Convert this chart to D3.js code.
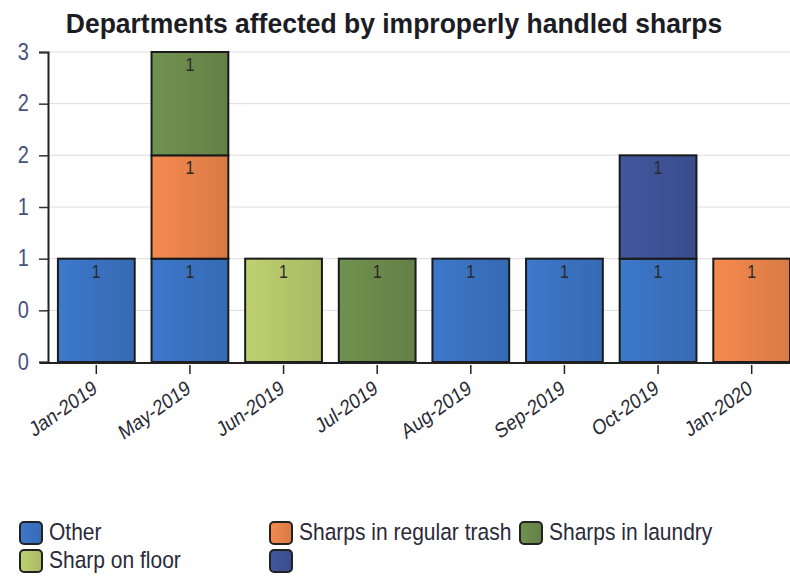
<!DOCTYPE html>
<html>
<head>
<meta charset="utf-8">
<script src="https://cdn.jsdelivr.net/npm/d3@7"></script>
<style>
  html, body { margin: 0; padding: 0; background: #fff; }
  svg { display: block; font-family: "Liberation Sans", Arial, sans-serif; }
</style>
</head>
<body>
<svg id="chart" width="790" height="577"></svg>
<script>
// Monthly counts of improperly handled sharps, by department category
const months = ["Jan-2019", "May-2019", "Jun-2019", "Jul-2019", "Aug-2019", "Sep-2019", "Oct-2019", "Jan-2020"];
const seriesNames = ["Other", "Sharps in regular trash", "Sharps in laundry", "Sharp on floor", ""];
const other        = [1, 1, 0, 0, 1, 1, 1, 0];
const regularTrash = [0, 1, 0, 0, 0, 0, 0, 1];
const laundry      = [0, 1, 0, 1, 0, 0, 0, 0];
const onFloor      = [0, 0, 1, 0, 0, 0, 0, 0];
const unnamed      = [0, 0, 0, 0, 0, 0, 1, 0];
const seriesColors = ["#3a72c0", "#e9834b", "#6a8a4b", "#b6c66a", "#3e5296"];
const yTickValues = [0, 0.5, 1, 1.5, 2, 2.5, 3];
const yTickLabels = ["0", "0", "1", "1", "2", "2", "3"];

const seriesValues = [other, regularTrash, laundry, onFloor, unnamed];
const keys = seriesNames.map((n, i) => "s" + i);
const table = months.map((m, j) => {
  const row = { month: m };
  keys.forEach((k, i) => { row[k] = seriesValues[i][j]; });
  return row;
});
const stacked = d3.stack().keys(keys)(table);

const svg = d3.select("#chart");
const STRETCH = 1.18;

const x = d3.scaleBand().domain(months).range([48, 800]).paddingInner(0.18).paddingOuter(0.106);
const y = d3.scaleLinear().domain([0, 3]).range([362, 52]);

// gradients for a slightly shaded bar face
const defs = svg.append("defs");
seriesColors.forEach((c, i) => {
  const g = defs.append("linearGradient").attr("id", "grad" + i)
    .attr("x1", "0%").attr("x2", "100%").attr("y1", "0%").attr("y2", "0%");
  g.append("stop").attr("offset", "0%").attr("stop-color", d3.color(c).brighter(0.15));
  g.append("stop").attr("offset", "100%").attr("stop-color", d3.color(c).darker(0.2));
});

// title
svg.append("text")
  .attr("transform", `translate(394,33) scale(1,1.05)`)
  .attr("text-anchor", "middle")
  .attr("font-size", 26.5).attr("font-weight", "bold").attr("fill", "#1c1c24")
  .text("Departments affected by improperly handled sharps");

// gridlines
svg.append("g").selectAll("line")
  .data(yTickValues.filter(v => v > 0))
  .join("line")
  .attr("x1", 48).attr("x2", 790)
  .attr("y1", d => y(d)).attr("y2", d => y(d))
  .attr("stroke", "#dcdcdc").attr("stroke-width", 1);

// y axis
const yAxis = svg.append("g").attr("transform", "translate(48,0)")
  .call(d3.axisLeft(y).tickValues(yTickValues).tickSize(9)
    .tickFormat((d, i) => yTickLabels[i]));
yAxis.select(".domain").attr("stroke", "#222").attr("stroke-width", 2);
yAxis.selectAll(".tick line").attr("stroke", "#333").attr("stroke-width", 1.5);
yAxis.selectAll(".tick text").remove();
yAxis.selectAll(".tick").append("text")
  .attr("transform", `translate(-19,7) scale(1,${STRETCH})`)
  .attr("text-anchor", "end")
  .attr("font-size", 20).attr("fill", "#46527a")
  .text((d, i) => yTickLabels[i]);

// bars
const layer = svg.append("g").selectAll("g")
  .data(stacked)
  .join("g")
  .attr("fill", (d, i) => `url(#grad${i})`);
layer.selectAll("rect")
  .data(d => d.filter(p => p[1] - p[0] > 0))
  .join("rect")
  .attr("x", d => x(d.data.month))
  .attr("width", x.bandwidth())
  .attr("y", d => y(d[1]))
  .attr("height", d => y(d[0]) - y(d[1]))
  .attr("stroke", "#1a1a1a").attr("stroke-width", 2);

// value labels
layer.selectAll("text")
  .data(d => d.filter(p => p[1] - p[0] > 0).map(p => ({ p, key: d.key })))
  .join("text")
  .attr("transform", d => `translate(${x(d.p.data.month) + x.bandwidth() / 2},${y(d.p[1]) + 19}) scale(1,${STRETCH})`)
  .attr("text-anchor", "middle")
  .attr("font-size", 16).attr("fill", "#2a2a2a")
  .text(d => d.p.data[d.key]);

// x axis
const xAxis = svg.append("g").attr("transform", "translate(0,363)")
  .call(d3.axisBottom(x).tickSize(11).tickSizeOuter(0));
xAxis.select(".domain").attr("d", "M40,0H790").attr("stroke", "#222").attr("stroke-width", 2);
xAxis.selectAll(".tick line").attr("stroke", "#222").attr("stroke-width", 1.5).attr("y1", 2);
xAxis.selectAll(".tick text").remove();
xAxis.selectAll(".tick").append("text")
  .attr("transform", `translate(2,29) scale(1,${STRETCH}) rotate(-31)`)
  .attr("text-anchor", "end")
  .attr("font-size", 18).attr("fill", "#2a2a35")
  .text(d => d);

// legend
const legend = svg.append("g");
const item = legend.selectAll("g")
  .data(seriesNames)
  .join("g")
  .attr("transform", (d, i) => `translate(${19 + (i % 3) * 250},${521 + Math.floor(i / 3) * 28})`);
item.append("rect")
  .attr("x", 1).attr("y", 1).attr("width", 22).attr("height", 22)
  .attr("rx", 4).attr("ry", 4)
  .attr("fill", (d, i) => `url(#grad${i})`)
  .attr("stroke", "#222").attr("stroke-width", 2);
item.append("text")
  .attr("transform", `translate(30,19) scale(1,${STRETCH})`)
  .attr("font-size", 21).attr("fill", "#2a2a3a")
  .text(d => d);
</script>
</body>
</html>
